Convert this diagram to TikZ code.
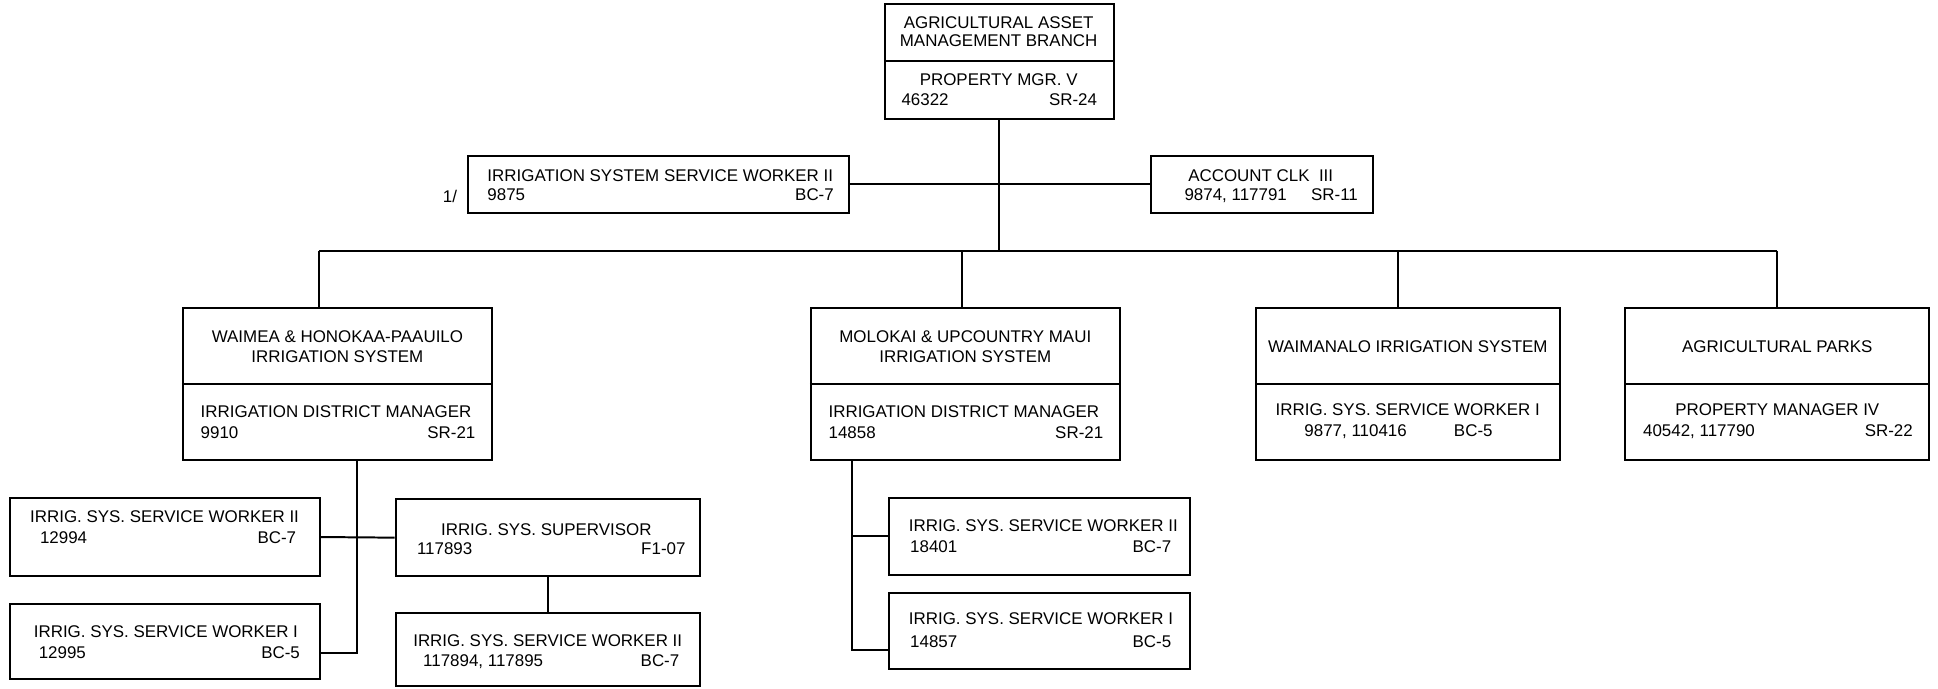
\documentclass[tikz,border=0pt]{standalone}
\usepackage{fontspec}
\setmainfont{Liberation Sans}
\begin{document}
\begin{tikzpicture}[x=0.5pt,y=-0.5pt,
  box/.style={draw,line width=0.8pt,inner sep=0pt,rectangle},
  txt/.style={inner sep=0pt,font=\fontsize{6.85}{8}\selectfont},
  tl/.style={txt,anchor=base west},
  tc/.style={txt,anchor=base},
  tr/.style={txt,anchor=base east},
  ln/.style={line width=0.8pt}]
\useasboundingbox (0,0) rectangle (1568,557);
% boxes
\node[box,minimum width=92.5pt,minimum height=46.5pt] (top) at (808.5,49.5) {};
\node[box,minimum width=154pt,minimum height=23pt] (issw) at (533,149) {};
\node[box,minimum width=90pt,minimum height=23pt] (acct) at (1021,149) {};
\node[box,minimum width=125pt,minimum height=61.5pt] (waimea) at (273,310.5) {};
\node[box,minimum width=125pt,minimum height=61.5pt] (molokai) at (781,310.5) {};
\node[box,minimum width=123pt,minimum height=61.5pt] (waiman) at (1139,310.5) {};
\node[box,minimum width=123pt,minimum height=61.5pt] (agp) at (1438,310.5) {};
\node[box,minimum width=125.5pt,minimum height=31.5pt] (w2) at (133.5,434.5) {};
\node[box,minimum width=125.5pt,minimum height=30pt] (w1) at (133.5,519) {};
\node[box,minimum width=123pt,minimum height=31pt] (sup) at (443,435) {};
\node[box,minimum width=123pt,minimum height=29.5pt] (sw2) at (443,525.5) {};
\node[box,minimum width=122pt,minimum height=31pt] (m2) at (841,434) {};
\node[box,minimum width=122pt,minimum height=30.5pt] (m1) at (841,510.5) {};
% dividers
\draw[ln] (top.west) -- (top.east);
\draw[ln] (waimea.west) -- (waimea.east);
\draw[ln] (molokai.west) -- (molokai.east);
\draw[ln] (waiman.west) -- (waiman.east);
\draw[ln] (agp.west) -- (agp.east);
% texts
\node[tc] (t1) at (808,23) {AGRICULTURAL ASSET};
\node[tc] (t2) at (808,38) {MANAGEMENT BRANCH};
\node[tc] (t3) at (808,69) {PROPERTY MGR. V};
\node[tl] (t4) at (729,85) {46322};
\node[tr] (t5) at (888,85) {SR-24};
\node[tl] (t6) at (394,147) {IRRIGATION SYSTEM SERVICE WORKER II};
\node[tl] (t7) at (394,162) {9875};
\node[tr] (t8) at (675,162) {BC-7};
\node[tc] (t9) at (364,164) {1/};
\node[tc] (t10) at (1020,147) {ACCOUNT CLK\ \ III};
\node[tl] (t11) at (958,162) {9874, 117791};
\node[tr] (t12) at (1099,162) {SR-11};
\node[tc] (t13) at (273,277) {WAIMEA \& HONOKAA-PAAUILO};
\node[tc] (t14) at (273,293) {IRRIGATION SYSTEM};
\node[tl] (t15) at (162,338) {IRRIGATION DISTRICT MANAGER};
\node[tl] (t16) at (162,355) {9910};
\node[tr] (t17) at (385,355) {SR-21};
\node[tc] (t18) at (781,277) {MOLOKAI \& UPCOUNTRY MAUI};
\node[tc] (t19) at (781,293) {IRRIGATION SYSTEM};
\node[tl] (t20) at (670,338) {IRRIGATION DISTRICT MANAGER};
\node[tl] (t21) at (670,355) {14858};
\node[tr] (t22) at (893,355) {SR-21};
\node[tc] (t23) at (1139,285) {WAIMANALO IRRIGATION SYSTEM};
\node[tc] (t24) at (1139,336) {IRRIG. SYS. SERVICE WORKER I};
\node[tl] (t25) at (1055,353) {9877, 110416};
\node[tr] (t26) at (1208,353) {BC-5};
\node[tc] (t27) at (1438,285) {AGRICULTURAL PARKS};
\node[tc] (t28) at (1438,336) {PROPERTY MANAGER IV};
\node[tl] (t29) at (1329,353) {40542, 117790};
\node[tr] (t30) at (1548,353) {SR-22};
\node[tl] (t31) at (24,423) {IRRIG. SYS. SERVICE WORKER II};
\node[tl] (t32) at (32,440) {12994};
\node[tr] (t33) at (240,440) {BC-7};
\node[tl] (t34) at (27,516) {IRRIG. SYS. SERVICE WORKER I};
\node[tl] (t35) at (31,533) {12995};
\node[tr] (t36) at (243,533) {BC-5};
\node[tc] (t37) at (442,433) {IRRIG. SYS. SUPERVISOR};
\node[tl] (t38) at (337,449) {117893};
\node[tr] (t39) at (555,449) {F1-07};
\node[tl] (t40) at (334,523) {IRRIG. SYS. SERVICE WORKER II};
\node[tl] (t41) at (342,539) {117894, 117895};
\node[tr] (t42) at (550,539) {BC-7};
\node[tl] (t43) at (735,430) {IRRIG. SYS. SERVICE WORKER II};
\node[tl] (t44) at (736,447) {18401};
\node[tr] (t45) at (948,447) {BC-7};
\node[tl] (t46) at (735,505) {IRRIG. SYS. SERVICE WORKER I};
\node[tl] (t47) at (736,524) {14857};
\node[tr] (t48) at (948,524) {BC-5};
% connectors
\coordinate (bW) at (258,203);
\coordinate (bM) at (778,203);
\coordinate (bN) at (1131,203);
\coordinate (bA) at (1438,203);
\draw[ln] (top.south) -- (top.south |- bW);
\draw[ln] (issw.east) -- (acct.west);
\draw[ln] (bW) -- (bA);
\draw[ln] (bW) -- (bW |- waimea.north);
\draw[ln] (bM) -- (bM |- molokai.north);
\draw[ln] (bN) -- (bN |- waiman.north);
\draw[ln] (bA) -- (agp.north);
\coordinate (wv) at (289,372);
\draw[ln] (wv) |- ([yshift=-4.5pt]w1.east);
\draw[ln] (w2.east) -- (sup.west);
\draw[ln] (sup.south) -- (sw2.north);
\coordinate (mv) at (689,372);
\draw[ln] (mv) |- ([yshift=-7.75pt]m1.west);
\draw[ln] (mv |- m2.west) -- (m2.west);
\end{tikzpicture}
\end{document}
